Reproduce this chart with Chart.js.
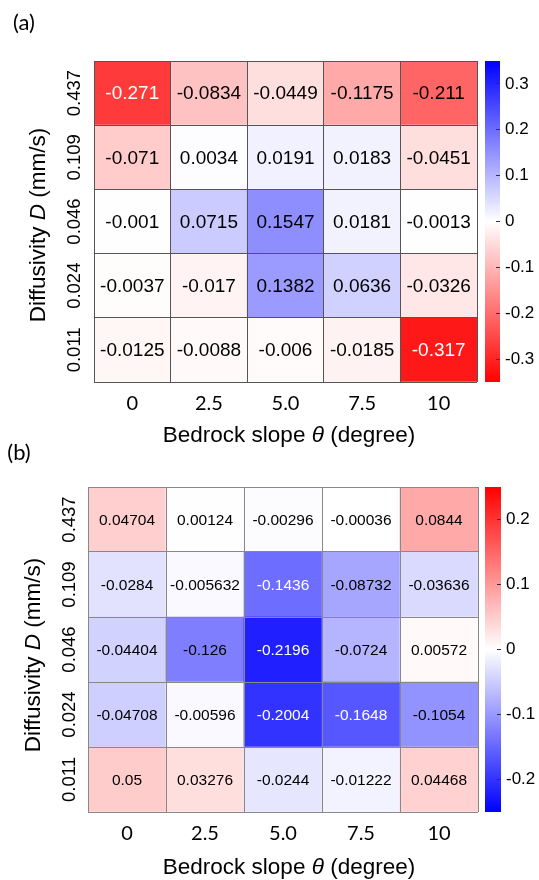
<!DOCTYPE html>
<html>
<head>
<meta charset="utf-8">
<title>Diffusivity vs bedrock slope</title>
<script src="https://cdn.jsdelivr.net/npm/chart.js@4.4.0/dist/chart.umd.min.js"></script>
<style>
  body { margin: 0; background: #fff; }
  #page { position: relative; width: 539px; height: 880px; overflow: hidden;
          font-family: "Liberation Sans", Arial, sans-serif; color: #000; }
  canvas { position: absolute; }
  .txt { position: absolute; white-space: nowrap; transform: translate(-50%, -50%); font-size: 22.5px; line-height: 1.2; }
  .rot { transform: translate(-50%, -50%) rotate(-90deg); }
  .tag { font-family: Lato, sans-serif; font-size: 22px; }
</style>
</head>
<body>
<div id="page">
  <canvas id="heatA" width="480" height="440" style="left:0;top:0"></canvas>
  <canvas id="barA" width="59" height="440" style="left:480px;top:0"></canvas>
  <canvas id="heatB" width="480" height="440" style="left:0;top:440px"></canvas>
  <canvas id="barB" width="59" height="440" style="left:480px;top:440px"></canvas>

  <div class="txt tag" style="left:24px;top:22px">(a)</div>
  <div class="txt rot" style="left:37px;top:225px">Diffusivity <i>D</i> (mm/s)</div>
  <div class="txt" style="left:289px;top:434px">Bedrock slope <i>θ</i> (degree)</div>

  <div class="txt tag" style="left:19px;top:452px">(b)</div>
  <div class="txt rot" style="left:32px;top:655px">Diffusivity <i>D</i> (mm/s)</div>
  <div class="txt" style="left:289px;top:866px">Bedrock slope <i>θ</i> (degree)</div>
</div>

<script>
// x categories and y categories (rows listed bottom -> top)
const slopes = ['0', '2.5', '5.0', '7.5', '10'];
const diffusivity = ['0.011', '0.024', '0.046', '0.109', '0.437'];

// panel (a), one row per diffusivity, bottom -> top
const effectA = [
  [-0.0125, -0.0088, -0.006, -0.0185, -0.317],
  [-0.0037, -0.017, 0.1382, 0.0636, -0.0326],
  [-0.001, 0.0715, 0.1547, 0.0181, -0.0013],
  [-0.071, 0.0034, 0.0191, 0.0183, -0.0451],
  [-0.271, -0.0834, -0.0449, -0.1175, -0.211]
];

// panel (b)
const effectB = [
  [0.05, 0.03276, -0.0244, -0.01222, 0.04468],
  [-0.04708, -0.00596, -0.2004, -0.1648, -0.1054],
  [-0.04404, -0.126, -0.2196, -0.0724, 0.00572],
  [-0.0284, -0.005632, -0.1436, -0.08732, -0.03636],
  [0.04704, 0.00124, -0.00296, -0.00036, 0.0844]
];

// colorbar limits + ticks
const limitA = 0.35;
const limitB = 0.25;
const cbTicksA = [-0.3, -0.2, -0.1, 0, 0.1, 0.2, 0.3];
const cbTicksB = [-0.2, -0.1, 0, 0.1, 0.2];

const BLUE = [0, 0, 255], RED = [255, 0, 0];

function cellColor(v, limit, posRGB, negRGB) {
  const t = Math.min(Math.abs(v) / limit, 1);
  const base = v >= 0 ? posRGB : negRGB;
  const mix = base.map(c => Math.round(255 + (c - 255) * t));
  return 'rgb(' + mix.join(',') + ')';
}

function makeHeatmap(id, values, p) {
  // writes the number in the middle of every cell
  const cellText = {
    id: 'cellText',
    afterDatasetsDraw(chart) {
      const ctx = chart.ctx;
      ctx.save();
      ctx.font = p.cellFont + 'px "Liberation Sans", Arial, sans-serif';
      ctx.textAlign = 'center';
      ctx.textBaseline = 'middle';
      chart.data.datasets.forEach((ds, i) => {
        chart.getDatasetMeta(i).data.forEach((bar, j) => {
          const v = ds.data[j].v;
          ctx.fillStyle = Math.abs(v) / p.limit > p.whiteCut ? '#fff' : '#000';
          ctx.fillText(String(v), bar.x, (bar.y + bar.base) / 2 + 1);
        });
      });
      ctx.restore();
    }
  };

  // rotated diffusivity labels on the left
  const rowLabels = {
    id: 'rowLabels',
    afterDraw(chart) {
      const ctx = chart.ctx;
      const y = chart.scales.y;
      ctx.save();
      ctx.font = '18.5px "Liberation Sans", Arial, sans-serif';
      ctx.fillStyle = '#000';
      ctx.textAlign = 'center';
      ctx.textBaseline = 'middle';
      diffusivity.forEach((d, i) => {
        ctx.save();
        ctx.translate(chart.chartArea.left - p.rowLabelGap, y.getPixelForValue(i + 0.5));
        ctx.rotate(-Math.PI / 2);
        ctx.fillText(d, 0, 0);
        ctx.restore();
      });
      ctx.restore();
    }
  };

  return new Chart(document.getElementById(id), {
    type: 'bar',
    data: {
      labels: slopes,
      datasets: diffusivity.map((d, i) => ({
        label: d,
        data: values[i].map((v, j) => ({ x: slopes[j], y: 1, v: v })),
        backgroundColor: c => cellColor(c.raw.v, p.limit, p.pos, p.neg),
        borderWidth: 0,
        barPercentage: 1,
        categoryPercentage: 1
      }))
    },
    options: {
      responsive: false,
      animation: false,
      layout: { padding: p.pad },
      plugins: { legend: { display: false }, tooltip: { enabled: false } },
      scales: {
        x: {
          stacked: true,
          grid: { color: p.lineColor, drawTicks: false, offset: true, z: 1 },
          border: { display: false },
          ticks: { color: '#000', padding: 10, font: { family: 'Lato', size: 20 } },
          afterFit: s => { s.height = 40; }
        },
        y: {
          stacked: true,
          min: 0,
          max: 5,
          ticks: { display: false, stepSize: 1 },
          grid: { color: p.lineColor, drawTicks: false, z: 1 },
          border: { display: false },
          afterFit: s => { s.width = p.axisW; }
        }
      }
    },
    plugins: [cellText, rowLabels]
  });
}

function makeColorbar(id, limit, ticks, topRGB, bottomRGB, p) {
  return new Chart(document.getElementById(id), {
    type: 'bar',
    data: {
      labels: [''],
      datasets: [{
        data: [[-limit, limit]],
        backgroundColor: c => {
          const area = c.chart.chartArea;
          if (!area) return '#fff';
          const g = c.chart.ctx.createLinearGradient(0, area.top, 0, area.bottom);
          g.addColorStop(0, 'rgb(' + topRGB.join(',') + ')');
          g.addColorStop(0.5, '#fff');
          g.addColorStop(1, 'rgb(' + bottomRGB.join(',') + ')');
          return g;
        },
        borderWidth: 0,
        barPercentage: 1,
        categoryPercentage: 1
      }]
    },
    options: {
      responsive: false,
      animation: false,
      layout: { padding: p.pad },
      plugins: { legend: { display: false }, tooltip: { enabled: false } },
      scales: {
        x: { display: false },
        y: {
          position: 'right',
          min: -limit,
          max: limit,
          afterBuildTicks: s => { s.ticks = ticks.map(v => ({ value: v })); },
          ticks: {
            callback: v => String(v),
            color: '#000',
            padding: 9,
            font: { family: '"Liberation Sans", Arial, sans-serif', size: 17 }
          },
          grid: { drawOnChartArea: false, drawTicks: true, tickLength: -4, color: '#333', z: 1 },
          border: { display: false },
          afterFit: s => { s.width = p.axisW; }
        }
      }
    }
  });
}

makeHeatmap('heatA', effectA, {
  limit: limitA, pos: BLUE, neg: RED, whiteCut: 0.65, cellFont: 19,
  lineColor: '#555', axisW: 94, rowLabelGap: 19,
  pad: { top: 61, left: 0, right: 3, bottom: 18 }
});
makeColorbar('barA', limitA, cbTicksA, BLUE, RED, {
  axisW: 39, pad: { top: 61, left: 5, right: 0, bottom: 58 }
});

makeHeatmap('heatB', effectB, {
  limit: limitB, pos: RED, neg: BLUE, whiteCut: 0.55, cellFont: 15.5,
  lineColor: '#888', axisW: 88, rowLabelGap: 18,
  pad: { top: 47, left: 0, right: 2, bottom: 28 }
});
makeColorbar('barB', limitB, cbTicksB, RED, BLUE, {
  axisW: 38, pad: { top: 47, left: 5, right: 0, bottom: 68 }
});
</script>
</body>
</html>
